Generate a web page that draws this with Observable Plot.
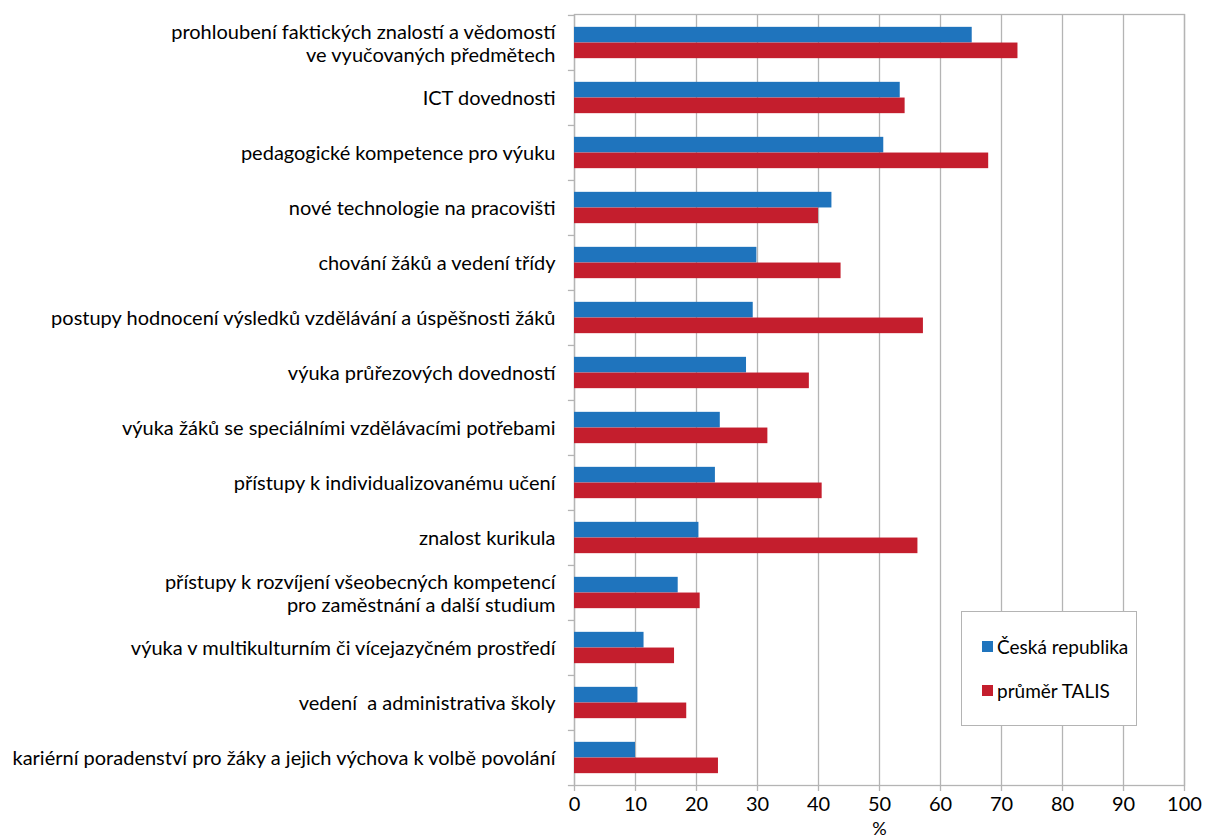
<!DOCTYPE html>
<html>
<head>
<meta charset="utf-8">
<script src="https://cdn.jsdelivr.net/npm/d3@7"></script>
<script src="https://cdn.jsdelivr.net/npm/@observablehq/plot@0.6"></script>
<style>
  html, body { margin: 0; padding: 0; background: #fff; }
  #wrap { position: relative; width: 1205px; height: 839px; overflow: hidden; }
  #legend {
    position: absolute; left: 961px; top: 611px; width: 174px; height: 113px;
    border: 1.5px solid #b4b4b4; background: #fff;
    font-family: Lato, sans-serif; font-size: 19px; color: #000;
  }
  .item { position: absolute; left: 20px; display: flex; align-items: center; }
  .sw { width: 11px; height: 11px; margin-right: 4px; }
</style>
</head>
<body>
<div id="wrap"></div>
<script>
const categories = [
  "prohloubení faktických znalostí a vědomostí\nve vyučovaných předmětech",
  "ICT dovednosti",
  "pedagogické kompetence pro výuku",
  "nové technologie na pracovišti",
  "chování žáků a vedení třídy",
  "postupy hodnocení výsledků vzdělávání a úspěšnosti žáků",
  "výuka průřezových dovedností",
  "výuka žáků se speciálními vzdělávacími potřebami",
  "přístupy k individualizovanému učení",
  "znalost kurikula",
  "přístupy k rozvíjení všeobecných kompetencí\npro zaměstnání a další studium",
  "výuka v multikulturním či vícejazyčném prostředí",
  "vedení  a administrativa školy",
  "kariérní poradenství pro žáky a jejich výchova k volbě povolání"
];
const czValues    = [65.2, 53.4, 50.7, 42.2, 29.9, 29.3, 28.2, 23.9, 23.1, 20.4, 17.0, 11.4, 10.4, 10.0];
const talisValues = [72.7, 54.2, 67.9, 40.0, 43.7, 57.2, 38.5, 31.7, 40.6, 56.3, 20.6, 16.4, 18.4, 23.6];
const seriesNames = ["Česká republika", "průměr TALIS"];
const seriesColors = ["#1f74bd", "#c41e2d"];
const xTicks = [0, 10, 20, 30, 40, 50, 60, 70, 80, 90, 100];
const xLabel = "%";

const W = 1205, H = 839;
const mTop = 14, mBottom = 54, mLeft = 574, mRight = 21;
const band = (H - mTop - mBottom) / categories.length;
const barH = 15.7;
const outer = (band - 2 * barH) / 2;
const grid = "#b4b4b4";

const rows = categories.map((c, i) => ({category: c, cz: czValues[i], talis: talisValues[i]}));

const chart = Plot.plot({
  width: W, height: H,
  marginTop: mTop, marginBottom: mBottom, marginLeft: mLeft, marginRight: mRight,
  style: {fontFamily: "Lato, sans-serif", fontSize: "20px", color: "#000", background: "#fff"},
  x: {domain: [0, 100]},
  y: {domain: categories, padding: 0},
  marks: [
    Plot.ruleX(xTicks, {stroke: grid, strokeWidth: 1.3}),
    Plot.frame({stroke: grid, strokeWidth: 1.3}),
    Plot.ruleY(categories, {y: d => d, x1: -1, x2: 0, stroke: grid, strokeWidth: 1.3, dy: -band / 2}),
    Plot.ruleY([categories[categories.length - 1]], {y: d => d, x1: -1, x2: 0, stroke: grid, strokeWidth: 1.3, dy: band / 2}),
    Plot.barX(rows, {x: "cz", y: "category", fill: seriesColors[0], insetTop: outer, insetBottom: band - outer - barH}),
    Plot.barX(rows, {x: "talis", y: "category", fill: seriesColors[1], insetTop: outer + barH, insetBottom: outer}),
    Plot.axisY({tickSize: 0, tickPadding: 19, fontSize: 20, lineHeight: 1.15, label: null}),
    Plot.axisX({ticks: xTicks, tickSize: 6, tickPadding: 5, fontSize: 20, stroke: grid, strokeWidth: 1.3, label: null}),
    Plot.text([xLabel], {frameAnchor: "bottom", dy: 44, lineAnchor: "middle", fontSize: 18})
  ]
});
document.getElementById("wrap").appendChild(chart);

const legend = document.createElement("div");
legend.id = "legend";
seriesNames.forEach((name, i) => {
  const item = document.createElement("div");
  item.className = "item";
  item.style.top = (i === 0 ? 23 : 67) + "px";
  const sw = document.createElement("span");
  sw.className = "sw";
  sw.style.background = seriesColors[i];
  const t = document.createElement("span");
  t.textContent = name;
  item.appendChild(sw); item.appendChild(t);
  legend.appendChild(item);
});
document.getElementById("wrap").appendChild(legend);
</script>
</body>
</html>
